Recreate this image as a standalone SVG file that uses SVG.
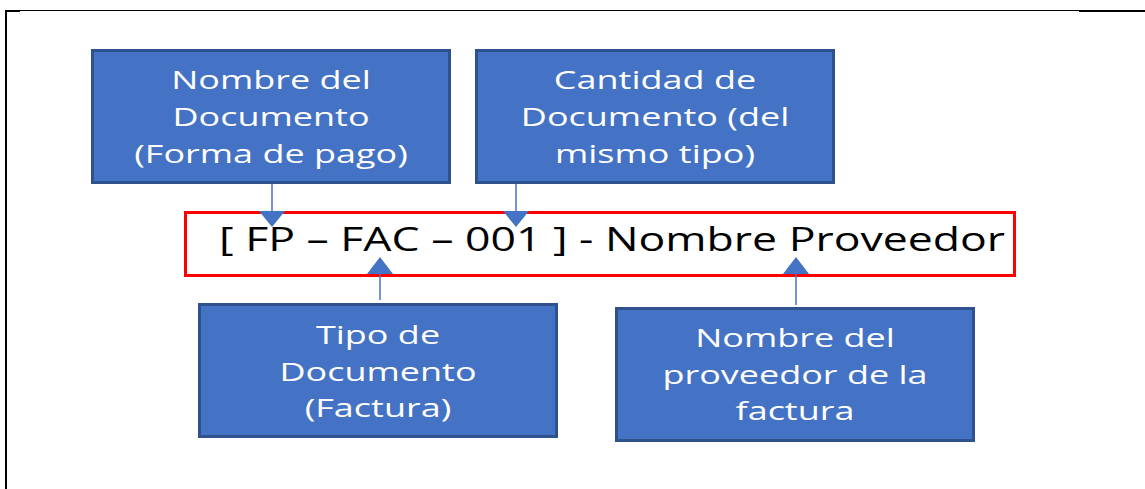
<svg xmlns="http://www.w3.org/2000/svg" width="1145" height="489" viewBox="0 0 1145 489">
<style>
.box{fill:#4472C4;stroke:#2F528F;stroke-width:3}
.bt{font-family:"Open Sans","Noto Sans",sans-serif;font-size:25px;fill:#FFFFFF;text-anchor:middle}
.conn{stroke:#4472C4;stroke-width:1.5;fill:none}
.head{fill:#4472C4}
</style>
<rect width="1145" height="489" fill="#FFFFFF"/>
<g id="frame">
<line x1="6" y1="10.5" x2="1145" y2="10.5" stroke="#000" stroke-width="1"/>
<line x1="1079" y1="11" x2="1145" y2="11" stroke="#000" stroke-width="2"/>
<line x1="6" y1="11" x2="20" y2="11" stroke="#000" stroke-width="2"/>
<line x1="6" y1="10" x2="6" y2="489" stroke="#000" stroke-width="2"/>
</g>
<g id="n1">
<rect class="box" x="92.5" y="50.5" width="357" height="132"/>
<g transform="translate(271,0) scale(1.44,1)">
<text class="bt" x="0" y="89">Nombre del</text>
<text class="bt" x="0" y="126">Documento</text>
<text class="bt" x="0" y="163">(Forma de pago)</text>
</g>
</g>
<g id="n2">
<rect class="box" x="476.5" y="50.5" width="357" height="132"/>
<g transform="translate(655,0) scale(1.44,1)">
<text class="bt" x="0" y="89">Cantidad de</text>
<text class="bt" x="0" y="126">Documento (del</text>
<text class="bt" x="0" y="163">mismo tipo)</text>
</g>
</g>
<g id="n3">
<rect class="box" x="199.5" y="304.5" width="357" height="132"/>
<g transform="translate(378,0) scale(1.44,1)">
<text class="bt" x="0" y="344">Tipo de</text>
<text class="bt" x="0" y="381">Documento</text>
<text class="bt" x="0" y="417">(Factura)</text>
</g>
</g>
<g id="n4">
<rect class="box" x="616.5" y="308.5" width="357" height="132"/>
<g transform="translate(795,0) scale(1.44,1)">
<text class="bt" x="0" y="347">Nombre del</text>
<text class="bt" x="0" y="384">proveedor de la</text>
<text class="bt" x="0" y="420">factura</text>
</g>
</g>
<g id="label">
<rect x="185.5" y="212.5" width="829" height="63" fill="#FFFFFF" stroke="#FF0000" stroke-width="3"/>
<text x="219" y="251" font-family="Open Sans,Noto Sans,sans-serif" font-size="32" fill="#000000" textLength="786" lengthAdjust="spacingAndGlyphs">[ FP – FAC – 001 ] - Nombre Proveedor</text>
</g>
<g id="connectors">
<line class="conn" x1="272" y1="184" x2="272" y2="211"/>
<polygon class="head" points="259,211 285,211 272,227"/>
<line class="conn" x1="516" y1="184" x2="516" y2="211"/>
<polygon class="head" points="503,211 529,211 516,227"/>
<line class="conn" x1="380" y1="300" x2="380" y2="274"/>
<polygon class="head" points="367,274 393,274 380,257"/>
<line class="conn" x1="796" y1="305" x2="796" y2="274"/>
<polygon class="head" points="783,274 809,274 796,257"/>
</g>
</svg>
